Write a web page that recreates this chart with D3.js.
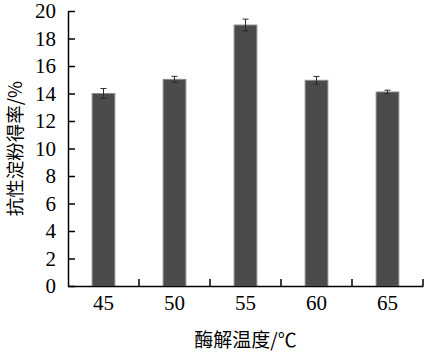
<!DOCTYPE html>
<html><head><meta charset="utf-8">
<script src="https://cdn.jsdelivr.net/npm/d3@7"></script>
<style>body{margin:0;background:#fff;}</style>
</head><body>
<svg id="c" width="424" height="356"></svg>
<script>
const categories = ["45", "50", "55", "60", "65"];
const values = [14.0, 15.03, 18.98, 14.96, 14.11];
const errors = [0.36, 0.22, 0.43, 0.28, 0.13];
const yTicks = [0, 2, 4, 6, 8, 10, 12, 14, 16, 18, 20];
const xTitle = "酶解温度/℃";
const yTitle = "抗性淀粉得率/%";

(function () {
const svg = d3.select("#c");
const mLeft = 68, mRight = 423, mTop = 11, mBottom = 286;
const x = d3.scaleBand().domain(categories).range([mLeft, mRight]).paddingInner(0).paddingOuter(0);
const y = d3.scaleLinear().domain([0, 20]).range([mBottom, mTop]);
const bw = x.bandwidth() * 0.32;
const serif = '"Liberation Serif", "Times New Roman", serif';
const cjk = '"Noto Sans CJK SC", "Liberation Serif", serif';

// bars
svg.selectAll("rect.bar").data(categories).join("rect")
  .attr("class", "bar")
  .attr("x", (d) => x(d) + x.bandwidth() / 2 - bw / 2)
  .attr("y", (d, i) => y(values[i]))
  .attr("width", bw)
  .attr("height", (d, i) => y(0) - y(values[i]))
  .attr("fill", "#4b4b4b")
  .attr("stroke", "#8c8c8c")
  .attr("stroke-width", 1);

// error bars
const eg = svg.append("g").attr("stroke", "#2a2a2a").attr("stroke-width", 1);
categories.forEach((c, i) => {
  const cx = x(c) + x.bandwidth() / 2;
  const y1 = y(values[i] + errors[i]), y2 = y(values[i] - errors[i]);
  eg.append("line").attr("x1", cx).attr("x2", cx).attr("y1", y1).attr("y2", y2);
  eg.append("line").attr("x1", cx - 3).attr("x2", cx + 3).attr("y1", y1).attr("y2", y1);
  eg.append("line").attr("x1", cx - 3).attr("x2", cx + 3).attr("y1", y2).attr("y2", y2);
});

// y axis
const yAxis = d3.axisLeft(y).tickValues(yTicks).tickSize(-7).tickPadding(12).tickSizeOuter(0);
const gy = svg.append("g").attr("transform", `translate(${mLeft},0)`).call(yAxis);
gy.select(".domain").attr("stroke", "#000").attr("stroke-width", 1.5);
gy.selectAll(".tick line").attr("stroke", "#000").attr("stroke-width", 1.5);
gy.selectAll("text").style("font-family", serif).style("font-size", "21px").attr("fill", "#000");

// x axis
const gx = svg.append("g").attr("transform", `translate(0,${mBottom})`)
  .call(d3.axisBottom(x).tickSize(0).tickPadding(9));
gx.select(".domain").attr("stroke", "#000").attr("stroke-width", 1.5);
gx.selectAll("text").style("font-family", serif).style("font-size", "21px").attr("fill", "#000");
// boundary ticks between categories (pointing up)
const bounds = categories.slice(1).map((c) => x(c)).concat([mRight]);
svg.append("g").selectAll("line").data(bounds).join("line")
  .attr("x1", (d) => d).attr("x2", (d) => d)
  .attr("y1", mBottom).attr("y2", mBottom - 7)
  .attr("stroke", "#000").attr("stroke-width", 1.5);

// titles
svg.append("text").attr("x", (mLeft + mRight) / 2).attr("y", 347)
  .attr("text-anchor", "middle").style("font-family", cjk)
  .style("font-size", "19px").attr("fill", "#000").text(xTitle);
svg.append("text").attr("transform", `translate(22,${(mTop + mBottom) / 2}) rotate(-90)`)
  .attr("text-anchor", "middle").style("font-family", cjk)
  .style("font-size", "18.5px").attr("fill", "#000").text(yTitle);
})();
</script>
</body></html>
